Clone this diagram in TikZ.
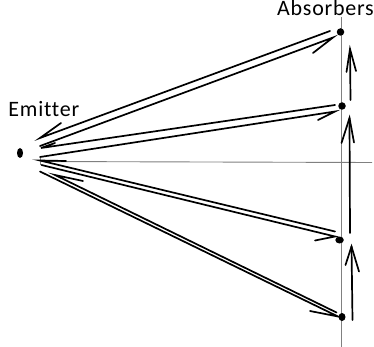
\documentclass[tikz,border=0pt]{standalone}
\usepackage{fontspec}
\setmainfont[LetterSpace=3.5,Ligatures=NoCommon]{Carlito}
\usetikzlibrary{shapes.geometric}
\definecolor{axisgray}{RGB}{128,128,128}
\tikzset{
  ray/.style={line width=1.7pt, line cap=round},
  axisline/.style={axisgray, line width=0.9pt},
  absdot/.style={circle, fill=black, inner sep=0pt, minimum size=7.5pt},
  emdot/.style={ellipse, fill=black, inner sep=0pt, minimum width=6pt, minimum height=10pt},
  lbl/.style={font=\fontsize{22}{24}\selectfont, anchor=base west, inner sep=0pt, text=black}
}
\begin{document}
\begin{tikzpicture}[x=1pt,y=-1pt]
\useasboundingbox (0,0) rectangle (374,347);
% axes
\coordinate (hl) at (40,161.5);
\coordinate (hr) at (372,162.5);
\coordinate (tkt) at (40,158);
\coordinate (tkb) at (40,165);
\coordinate (vt) at (341.5,17);
\coordinate (vb) at (341.5,347);
\draw[axisline] (hl) -- (hr);
\draw[axisline] (tkt) -- (tkb);
\draw[axisline] (vt) -- (vb);
% labels
\node[lbl] (emlbl) at (8.3,117) {Emitter};
\node[lbl] (ablbl) at (277,16) {Absorbers};
% dots
\node[emdot] (E) at (20,153) {};
\node[absdot] (A1) at (340.5,32) {};
\node[absdot] (A2) at (342,106) {};
\node[absdot, minimum width=8.5pt, minimum height=7pt, ellipse] (A3) at (339.5,240) {};
\node[absdot, minimum width=7pt, minimum height=8pt, ellipse] (A4) at (342,317) {};
% pair 1
\coordinate (p1ut) at (40,138);  \coordinate (p1ue) at (330,31);  \coordinate (p1ub) at (61,123);
\coordinate (p1ls) at (40,146);  \coordinate (p1lt) at (333,37.5); \coordinate (p1lb) at (313,53);
% pair 2
\coordinate (p2ut) at (41,148);  \coordinate (p2ue) at (335,105); \coordinate (p2ub) at (55,143);
\coordinate (p2ls) at (40,157);  \coordinate (p2lt) at (335,111.5); \coordinate (p2lb) at (318,120);
% pair 3
\coordinate (p3ut) at (40,160.5); \coordinate (p3ue) at (335,231.5); \coordinate (p3ub) at (66,161);
\coordinate (p3ls) at (41.5,165); \coordinate (p3lt) at (335,236.5); \coordinate (p3lb) at (315,240.5);
% pair 4
\coordinate (p4ut) at (55,175);  \coordinate (p4ue) at (336.5,312.5); \coordinate (p4ub) at (83,181);
\coordinate (p4ls) at (40,171.5); \coordinate (p4lt) at (338,316.5); \coordinate (p4lb) at (310,311);
\foreach \p in {1,2,3,4}{
  \draw[ray] (p\p ue) -- (p\p ut) -- (p\p ub);
  \draw[ray] (p\p ls) -- (p\p lt) -- (p\p lb);
}
% vertical arrows
\coordinate (v1b) at (350.5,100); \coordinate (v1t) at (350,49);  \coordinate (v1l) at (346.5,72); \coordinate (v1r) at (356,71);
\coordinate (v2b) at (350,233);   \coordinate (v2t) at (349.5,118); \coordinate (v2l) at (341.5,143); \coordinate (v2r) at (354,142.5);
\coordinate (v3b) at (352.5,320); \coordinate (v3t) at (351.5,246.5); \coordinate (v3l) at (345.5,265); \coordinate (v3r) at (359,271.5);
\foreach \v in {1,2,3}{
  \draw[ray] (v\v b) -- (v\v t);
  \draw[ray] (v\v l) -- (v\v t) -- (v\v r);
}
\end{tikzpicture}
\end{document}
